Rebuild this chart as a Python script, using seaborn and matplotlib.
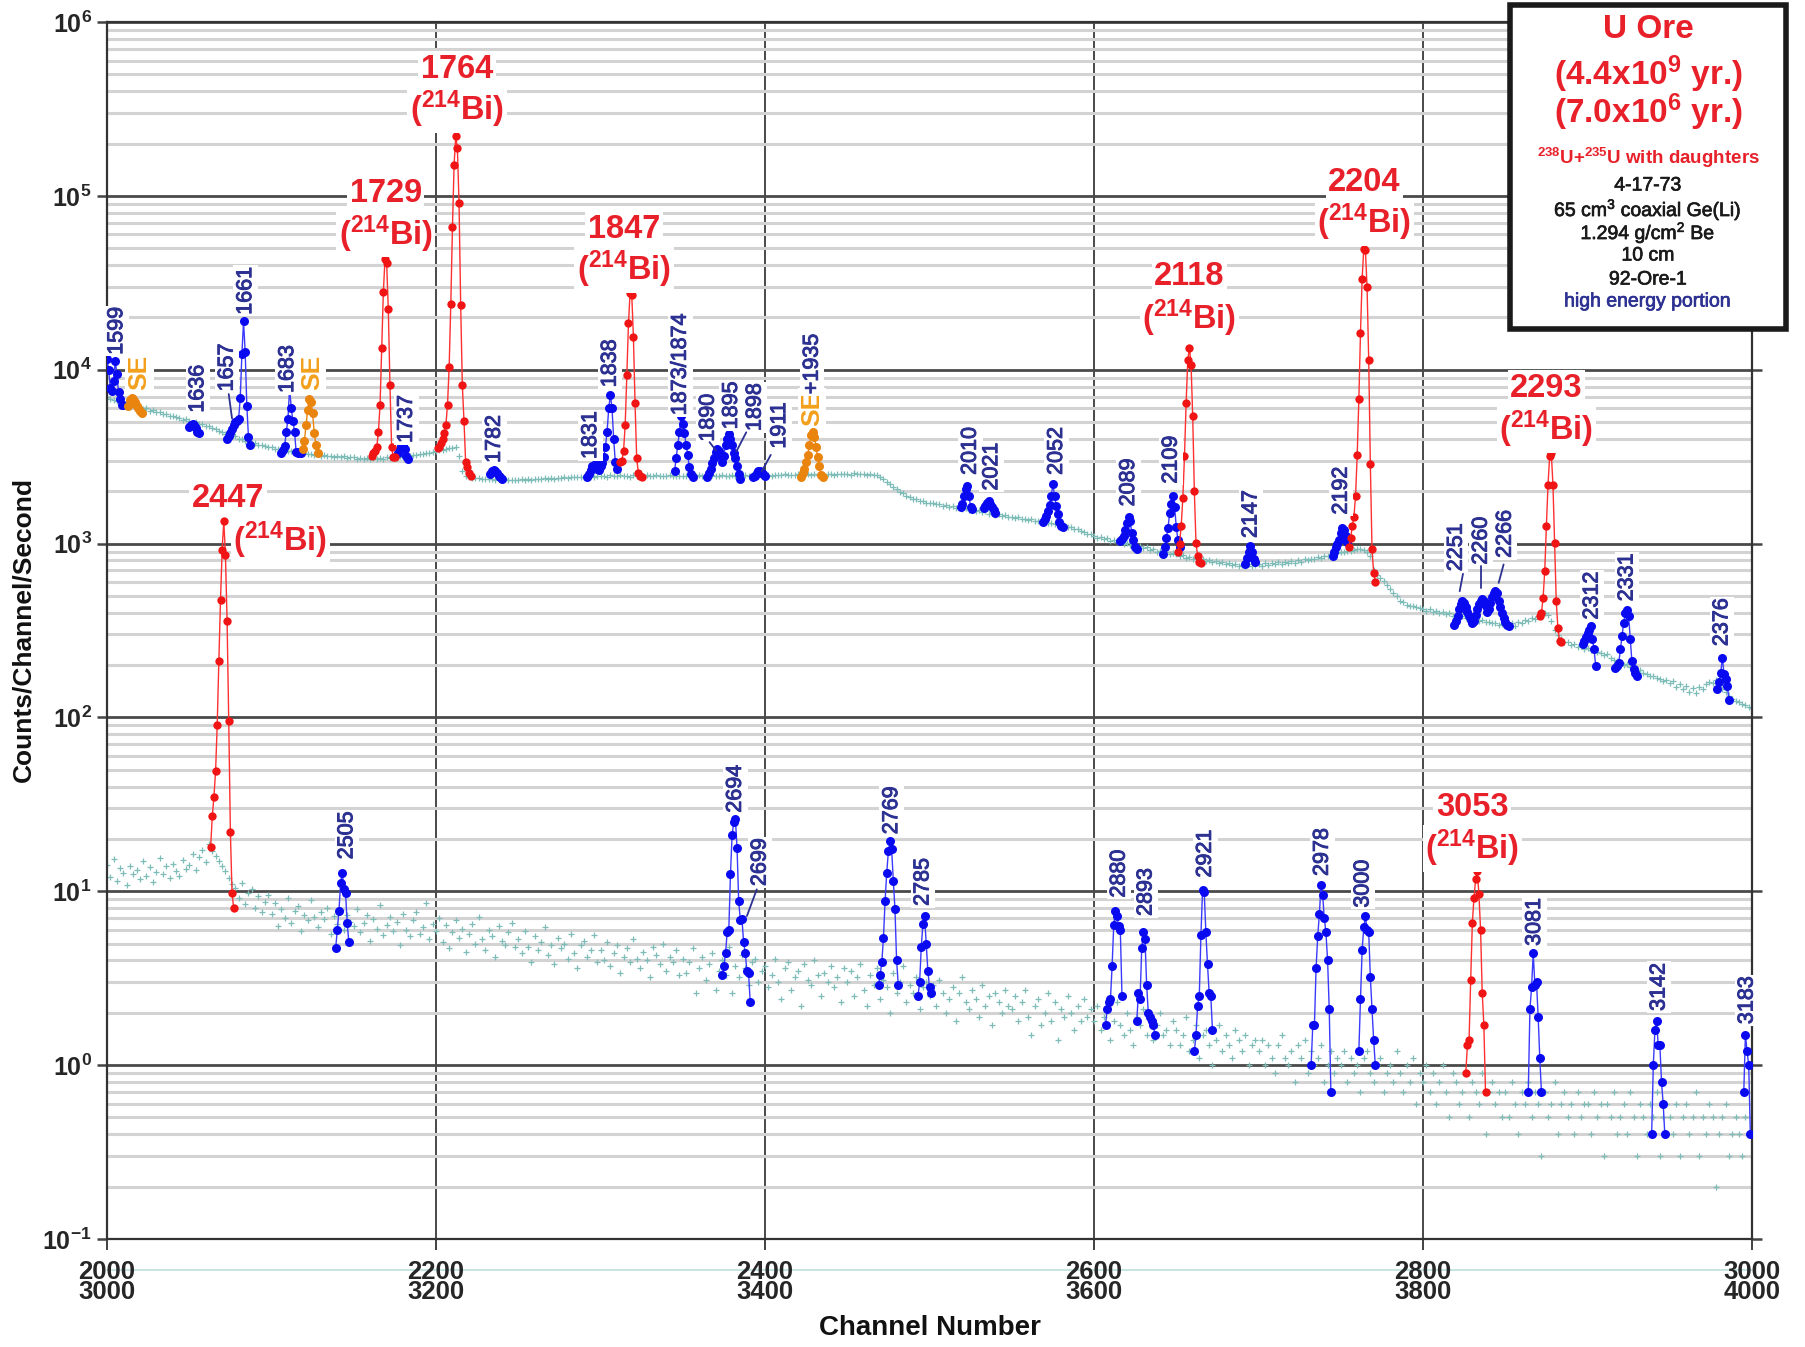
import numpy as np
import pandas as pd
import seaborn as sns
import matplotlib
matplotlib.use("Agg")
import matplotlib.pyplot as plt
import matplotlib.patheffects as pe
from matplotlib.patches import Rectangle
from matplotlib.ticker import LogLocator, NullFormatter

# ---------------------------------------------------------------------------
# Continuum (background) of the two halves of the spectrum, every 2nd channel.
# Upper trace: channels 2000-3000, lower trace: channels 3000-4000.
# ---------------------------------------------------------------------------
upper_bg = [
    6950, 6750, 6720, 6580, 6530, 6400, 6380, 6250, 6230, 6120, 6080, 5960, 5990, 5820, 5830, 5680, 5700, 5560, 5540, 5420, 5440, 5320, 5280, 5170, 5180,
    5080, 4960, 4980, 4870, 4870, 4750, 4740, 4620, 4590, 4440, 4400, 4290, 4270, 4150, 4140, 4020, 4010, 3910, 3900, 3800, 3790, 3700, 3700, 3620, 3610,
    3580, 3510, 3520, 3460, 3470, 3400, 3420, 3360, 3370, 3310, 3320, 3270, 3290, 3230, 3260, 3200, 3220, 3170, 3200, 3150, 3180, 3130, 3170, 3120, 3150,
    3130, 3080, 3110, 3070, 3100, 3060, 3110, 3070, 3120, 3080, 3130, 3100, 3150, 3120, 3170, 3150, 3200, 3180, 3240, 3220, 3280, 3260, 3320, 3310, 3380,
    3420, 3440, 3470, 3500, 3540, 3560, 3590, 3200, 2600, 2440, 2400, 2390, 2370, 2380, 2350, 2360, 2340, 2350, 2330, 2340, 2320, 2340, 2320, 2330, 2310,
    2330, 2340, 2320, 2350, 2330, 2360, 2340, 2350, 2370, 2350, 2380, 2360, 2390, 2380, 2400, 2380, 2410, 2400, 2420, 2400, 2430, 2410, 2440, 2420, 2450,
    2440, 2460, 2430, 2470, 2450, 2440, 2470, 2450, 2460, 2430, 2470, 2450, 2440, 2460, 2480, 2450, 2440, 2470, 2450, 2460, 2440, 2470, 2450, 2460, 2440,
    2460, 2440, 2470, 2450, 2460, 2480, 2450, 2460, 2440, 2470, 2460, 2450, 2480, 2460, 2450, 2470, 2460, 2480, 2450, 2470, 2460, 2480, 2460, 2470, 2450,
    2470, 2480, 2460, 2490, 2470, 2480, 2500, 2470, 2490, 2480, 2500, 2480, 2490, 2510, 2480, 2500, 2490, 2510, 2490, 2500, 2520, 2490, 2510, 2500, 2520,
    2510, 2490, 2530, 2500, 2520, 2510, 2490, 2520, 2480, 2470, 2410, 2360, 2270, 2210, 2110, 2070, 1980, 1950, 1870, 1860, 1800, 1800, 1750, 1760, 1720,
    1710, 1720, 1680, 1690, 1650, 1670, 1630, 1650, 1600, 1620, 1590, 1600, 1560, 1580, 1540, 1550, 1510, 1530, 1480, 1500, 1460, 1480, 1440, 1460, 1420,
    1430, 1400, 1420, 1390, 1380, 1360, 1380, 1350, 1340, 1330, 1340, 1310, 1320, 1290, 1300, 1270, 1280, 1250, 1240, 1210, 1220, 1180, 1170, 1140, 1130,
    1110, 1080, 1090, 1060, 1070, 1040, 1050, 1020, 1030, 1000, 1010, 980, 990, 960, 970, 940, 950, 920, 930, 900, 910, 890, 890, 870, 880,
    870, 850, 860, 830, 840, 820, 830, 800, 810, 790, 800, 780, 790, 770, 780, 760, 770, 750, 760, 740, 750, 740, 760, 745, 755,
    760, 745, 770, 755, 775, 760, 780, 765, 785, 770, 790, 775, 800, 785, 810, 800, 820, 815, 835, 830, 850, 845, 865, 860, 880,
    890, 900, 905, 910, 920, 925, 930, 920, 900, 850, 700, 660, 630, 610, 575, 545, 520, 500, 470, 460, 445, 440, 438, 432, 428,
    422, 410, 418, 405, 410, 398, 404, 392, 398, 385, 390, 378, 384, 372, 376, 365, 370, 360, 362, 352, 356, 348, 350, 342, 346,
    342, 332, 348, 336, 352, 348, 362, 358, 375, 370, 385, 392, 398, 388, 360, 318, 298, 282, 272, 270, 262, 265, 255, 258, 248,
    252, 245, 248, 238, 236, 228, 232, 220, 214, 210, 206, 200, 202, 194, 190, 186, 188, 180, 178, 172, 174, 168, 166, 162, 164,
    158, 162, 150, 156, 145, 152, 140, 148, 138, 150, 146, 155, 160, 158, 165, 150, 145, 140, 132, 128, 125, 122, 120, 118, 115,
    113,
]

lower_bg = [
    14.2, 12.1, 15.3, 11.4, 13.6, 12.8, 10.9, 14.0, 12.5, 13.3, 11.7, 14.9, 12.2, 13.8, 11.3, 12.9, 15.6, 12.6, 13.9, 11.9, 14.4, 13.0, 12.3, 15.1, 13.5,
    14.1, 16.4, 13.2, 15.7, 17.3, 14.8, 18.6, 17.0, 16.0, 15.0, 14.0, 13.0, 12.0, 11.0, 10.4, 9.2, 11.1, 8.4, 9.8, 10.3, 8.0, 9.4, 7.6, 8.7, 9.5,
    7.4, 8.6, 6.3, 7.9, 7.0, 9.1, 6.6, 7.7, 8.2, 5.9, 7.3, 6.8, 8.9, 7.1, 6.2, 7.6, 6.9, 8.0, 5.7, 7.2, 6.5, 7.8, 6.0, 7.3, 6.7,
    6.3, 7.9, 5.8, 6.6, 7.3, 5.2, 6.9, 6.1, 8.3, 5.6, 6.4, 7.1, 5.9, 6.7, 4.9, 7.4, 6.0, 5.5, 6.8, 7.6, 5.7, 6.2, 8.6, 5.3, 6.5,
    5.9, 7.0, 5.1, 6.4, 4.7, 5.8, 6.8, 5.4, 6.1, 4.5, 5.7, 6.5, 5.0, 7.1, 5.3, 4.6, 6.0, 5.5, 4.2, 6.3, 5.2, 4.9, 5.8, 6.6, 4.8,
    5.3, 4.4, 5.9, 4.8, 3.9, 5.5, 4.6, 5.1, 6.2, 4.3, 4.9, 3.8, 5.4, 4.7, 5.0, 4.1, 5.7, 4.4, 3.6, 4.9, 5.2, 4.2, 4.6, 5.6, 3.9,
    4.6, 4.0, 5.1, 3.7, 4.4, 4.9, 3.4, 4.2, 4.7, 3.9, 5.3, 4.1, 3.6, 4.5, 4.0, 3.2, 4.8, 4.3, 3.8, 5.0, 3.5, 4.2, 3.9, 4.6, 3.3,
    4.1, 3.4, 3.9, 4.7, 2.6, 3.6, 4.2, 3.1, 3.8, 4.4, 2.7, 3.5, 4.0, 3.3, 4.8, 2.6, 3.7, 3.2, 4.3, 3.6, 2.9, 3.9, 4.1, 3.0, 3.5,
    3.7, 2.8, 3.3, 4.1, 3.0, 2.4, 3.6, 3.9, 2.7, 3.2, 3.5, 2.2, 3.8, 3.1, 2.9, 4.0, 3.3, 2.5, 3.4, 3.0, 3.7, 2.8, 3.2, 2.3, 3.6,
    3.0, 3.5, 2.5, 3.2, 3.8, 2.7, 2.2, 3.3, 2.9, 3.6, 2.4, 3.1, 2.8, 2.0, 3.4, 2.6, 3.0, 3.7, 2.3, 2.9, 2.6, 3.2, 2.1, 2.8, 3.0,
    2.5, 2.9, 2.2, 3.1, 2.6, 2.0, 2.4, 2.8, 1.8, 2.6, 3.2, 2.3, 2.1, 2.7, 2.4, 1.9, 2.9, 2.2, 2.5, 1.7, 2.6, 2.3, 2.0, 2.7, 2.2,
    2.1, 2.5, 1.8, 2.3, 2.7, 1.9, 1.5, 2.2, 2.4, 1.7, 2.0, 2.6, 1.8, 2.3, 1.4, 2.1, 1.9, 2.5, 2.0, 1.6, 2.2, 1.8, 2.4, 1.9, 2.1,
    1.8, 2.2, 1.6, 1.9, 2.1, 1.4, 1.8, 2.3, 1.7, 1.5, 2.0, 1.6, 1.3, 1.9, 1.7, 2.1, 1.5, 1.8, 1.4, 1.7, 2.0, 1.5, 1.6, 1.3, 1.8,
    1.6, 1.3, 1.5, 1.9, 1.2, 1.4, 1.7, 1.1, 1.5, 1.6, 1.3, 1.0, 1.4, 1.7, 1.2, 1.5, 1.3, 1.1, 1.6, 1.4, 1.2, 1.5, 1.0, 1.3, 1.4,
    1.2, 1.4, 1.0, 1.3, 1.1, 0.9, 1.3, 1.5, 1.1, 1.0, 1.2, 0.8, 1.3, 1.1, 1.4, 0.9, 1.2, 1.0, 1.1, 1.3, 0.8, 1.0, 1.2, 0.9, 1.1,
    1.0, 1.2, 0.8, 1.1, 0.9, 1.0, 0.7, 1.1, 1.2, 0.9, 0.8, 1.0, 1.1, 0.7, 0.9, 1.0, 0.8, 1.2, 0.9, 0.7, 1.0, 0.8, 1.1, 0.6, 0.9,
    0.8, 1.0, 0.7, 0.9, 0.6, 0.8, 1.0, 0.7, 0.5, 0.9, 0.8, 0.6, 0.7, 0.9, 0.5, 0.8, 0.7, 0.6, 0.9, 0.4, 0.7, 0.8, 0.6, 0.7, 0.5,
    0.7, 0.5, 0.8, 0.6, 0.4, 0.7, 0.6, 0.8, 0.5, 0.7, 0.6, 0.3, 0.7, 0.5, 0.6, 0.8, 0.4, 0.6, 0.7, 0.5, 0.6, 0.4, 0.7, 0.5, 0.6,
    0.6, 0.4, 0.7, 0.5, 0.6, 0.3, 0.6, 0.5, 0.7, 0.4, 0.5, 0.6, 0.4, 0.7, 0.5, 0.3, 0.6, 0.5, 0.4, 0.6, 0.5, 0.7, 0.3, 0.5, 0.6,
    0.5, 0.4, 0.6, 0.3, 0.5, 0.6, 0.4, 0.5, 0.7, 0.3, 0.5, 0.4, 0.6, 0.5, 0.2, 0.4, 0.5, 0.6, 0.3, 0.4, 0.5, 0.4, 0.3, 0.5, 0.4,
    0.4,
]

# ---------------------------------------------------------------------------
# Peaks: (first channel, counts/channel/second in consecutive channels)
# ---------------------------------------------------------------------------
# upper trace, ordinary lines
pk_1599 = (2000, [11500, 10000, 7800, 7500, 8600, 11200, 9500, 7400, 6800, 6300, 6300])
pk_1636 = (2050, [4700, 4800, 4850, 4800, 4600, 4400, 4300])
pk_1657_1661 = (2073, [4000, 4150, 4350, 4550, 4800, 5000, 5100, 5200, 6900, 12300, 19000, 12600, 6200, 4100, 3700])
pk_1683 = (2106, [3300, 3450, 3650, 4400, 5200, 7900, 6000, 5100, 4400, 3350, 3300, 3350, 3300])
pk_1737 = (2177, [3300, 3500, 3650, 3700, 3500, 3200, 3050])
pk_1782 = (2233, [2500, 2600, 2650, 2600, 2550, 2450, 2400, 2350])
pk_1831_1838 = (2292, [2400, 2500, 2650, 2800, 2750, 2900, 2700, 2650, 2800, 2900, 3150, 3600, 4400, 6000, 7200, 6000, 4000, 2950, 2700])
pk_1873 = (2345, [2600, 3100, 3700, 4400, 5400, 4900, 4350, 3700, 3250, 2750, 2500, 2400])
pk_1890_1898 = (2365, [2400, 2550, 2700, 2900, 3100, 3350, 3500, 3400, 3200, 2950, 3200, 3700, 4000, 4250, 4000, 3700, 3300, 3100, 2800, 2500, 2350])
pk_1911 = (2393, [2400, 2450, 2550, 2600, 2600, 2550, 2500, 2450])
pk_2010 = (2519, [1620, 1700, 1880, 2050, 2150, 1880, 1620, 1580])
pk_2021 = (2533, [1600, 1650, 1720, 1760, 1700, 1620, 1560, 1500])
pk_2052 = (2569, [1330, 1380, 1450, 1530, 1670, 1880, 2200, 1880, 1650, 1470, 1330, 1270, 1250])
pk_2089 = (2616, [1030, 1060, 1100, 1200, 1320, 1420, 1340, 1150, 1050, 950, 930])
pk_2109 = (2642, [870, 960, 1080, 1230, 1500, 1680, 1870, 1630, 1250, 1050, 950])
pk_2147 = (2692, [760, 830, 900, 970, 900, 820, 780])
pk_2192 = (2745, [850, 900, 950, 1000, 1050, 1150, 1230, 1200, 1100, 1020])
pk_2251_2266 = (2819, [340, 360, 385, 420, 450, 466, 455, 430, 405, 385, 365, 350, 360, 390, 420, 450, 470,
                       477, 470, 440, 405, 420, 455, 490, 520, 532, 520, 470, 430, 400, 375, 355, 340, 335])
pk_2312 = (2897, [264, 276, 290, 305, 320, 335, 282, 246, 197])
pk_2331 = (2917, [193, 197, 206, 246, 294, 350, 398, 414, 383, 282, 210, 189, 181, 173])
pk_2376 = (2979, [145, 159, 181, 220, 178, 166, 152, 126])

# upper trace, single-escape peaks
se_2019 = (2013, [6200, 6700, 6900, 6800, 6500, 6200, 6000, 5800, 5600])
se_2124 = (2119, [3500, 3900, 4800, 5900, 6800, 6500, 5600, 4300, 3700, 3300])
se_1935 = (2422, [2430, 2550, 2700, 2950, 3250, 3700, 4200, 4400, 4100, 3600, 3150, 2800, 2480, 2430])

# upper trace, 214Bi lines
bi_1729 = (2161, [3200, 3300, 3400, 3600, 4400, 6300, 13400, 28000, 43500, 41000, 22300, 8200, 3600, 3150, 3150])
bi_1764 = (2201, [3550, 3600, 3800, 4000, 4330, 4800, 6300, 10400, 24000, 66000, 151000, 220000, 188000,
                  91000, 23500, 8200, 5100, 2960, 2750, 2550, 2450])
bi_1847 = (2312, [2950, 3000, 3400, 4800, 9300, 18500, 27800, 27000, 15500, 6400, 3100, 2550, 2450, 2400])
bi_2118 = (2651, [900, 1000, 1260, 1830, 3170, 6450, 11300, 13400, 10700, 5400, 2000, 1010, 850, 780, 770])
bi_2204 = (2755, [960, 1070, 1260, 1420, 1880, 3230, 6770, 16300, 33400, 49500, 48500, 29800, 11300, 2850, 925, 680, 600])
bi_2293 = (2871, [382, 400, 487, 693, 1260, 2180, 3180, 3300, 2180, 1010, 466, 327, 276, 270])

# lower trace (channels 3000-4000)
pk_2505 = (3139, [4.7, 6.0, 7.7, 11.2, 12.8, 10.3, 9.8, 6.6, 5.1])
pk_2694 = (3374, [3.3, 3.7, 4.4, 5.8, 6.0, 12.5, 21, 25, 26, 17.8, 8.8, 6.8, 6.9, 5.1, 4.4, 3.5, 3.4, 2.3])
pk_2769 = (3469, [2.9, 3.3, 3.9, 5.4, 8.8, 12.8, 17, 19.5, 17.4, 11.5, 7.9, 4.0, 2.9])
pk_2785 = (3493, [2.5, 3.0, 4.8, 6.5, 7.2, 5.0, 3.5, 2.8, 2.6])
pk_2880 = (3607, [1.7, 2.1, 2.3, 2.4, 3.7, 6.4, 7.7, 7.2, 6.3, 6.0, 2.5])
pk_2893 = (3626, [1.8, 2.6, 2.4, 4.7, 5.8, 5.3, 2.9, 2.0, 1.9, 1.8, 1.7, 1.5])
pk_2921 = (3661, [1.2, 1.5, 2.2, 2.5, 5.6, 10.2, 9.9, 5.8, 3.8, 2.6, 2.5, 1.6])
pk_2978 = (3732, [1.0, 1.7, 1.7, 3.6, 5.5, 7.4, 10.8, 9.5, 7.0, 5.8, 4.0, 2.1, 0.7])
pk_3000 = (3761, [1.2, 2.4, 4.6, 6.2, 7.2, 6.0, 5.8, 3.2, 2.1, 1.4, 1.0])
pk_3081 = (3864, [0.7, 2.1, 2.8, 4.4, 2.9, 3.0, 1.9, 1.1, 0.7])
pk_3142 = (3939, [0.4, 1.0, 1.6, 1.8, 1.3, 1.3, 0.8, 0.6, 0.4])
pk_3183 = (3995, [0.7, 1.5, 1.2, 1.0, 0.4])
bi_2447 = (3063, [18, 27, 35, 49, 91, 211, 475, 924, 1350, 860, 357, 96, 22, 9.8, 8.0])
bi_3053 = (3826, [0.9, 1.3, 1.4, 3.1, 6.6, 9.2, 11.7, 13.1, 9.6, 6.0, 2.6, 1.7, 0.7])

upper_lines = [pk_1599, pk_1636, pk_1657_1661, pk_1683, pk_1737, pk_1782, pk_1831_1838, pk_1873,
               pk_1890_1898, pk_1911, pk_2010, pk_2021, pk_2052, pk_2089, pk_2109, pk_2147, pk_2192,
               pk_2251_2266, pk_2312, pk_2331, pk_2376]
upper_escape = [se_2019, se_2124, se_1935]
upper_bismuth = [bi_1729, bi_1764, bi_1847, bi_2118, bi_2204, bi_2293]
lower_lines = [pk_2505, pk_2694, pk_2769, pk_2785, pk_2880, pk_2893, pk_2921, pk_2978, pk_3000,
               pk_3081, pk_3142, pk_3183]
lower_bismuth = [bi_2447, bi_3053]

# energy (keV) labels of the ordinary lines and where their text starts (channel, log10 rate)
line_labels = ["1599", "1636", "1657", "1661", "1683", "1737", "1782", "1831", "1838", "1873/1874",
               "1890", "1895", "1898", "1911", "2010", "2021", "2052", "2089", "2109", "2147", "2192",
               "2251", "2260", "2266", "2312", "2331", "2376", "2505", "2694", "2699", "2769", "2785",
               "2880", "2893", "2921", "2978", "3000", "3081", "3142", "3183"]
line_label_pos = [(2005.9, 4.086), (2055.2, 3.753), (2073.0, 3.875), (2084.3, 4.316), (2109.8, 3.866),
                  (2182.0, 3.579), (2235.5, 3.464), (2294.0, 3.486), (2305.9, 3.899), (2348.5, 3.738),
                  (2365.5, 3.586), (2379.6, 3.657), (2394.0, 3.647), (2408.9, 3.546), (2524.8, 3.395),
                  (2537.8, 3.305), (2577.2, 3.395), (2621.0, 3.214), (2646.9, 3.345), (2695.4, 3.032),
                  (2750.3, 3.167), (2820.2, 2.841), (2835.4, 2.879), (2850.0, 2.918), (2902.8, 2.563),
                  (2924.0, 2.668), (2981.7, 2.410), (2145.8, 1.184), (2382.0, 1.452), (2397.0, 1.030),
                  (2477.0, 1.328), (2496.0, 0.916), (2615.3, 0.964), (2631.6, 0.858), (2667.7, 1.079),
                  (2738.8, 1.088), (2763.5, 0.906), (2867.8, 0.686), (2943.5, 0.312), (2997.0, 0.236)]
leader_lines = [((2074.0, 3.86), (2076.0, 3.72)), ((2366.3, 3.583), (2370.2, 3.536)),
                ((2388.6, 3.64), (2382.6, 3.53)), ((2403.5, 3.51), (2398.0, 3.415)),
                ((2824.3, 2.826), (2822.3, 2.726)), ((2835.4, 2.870), (2835.4, 2.746)),
                ((2849.0, 2.880), (2846.0, 2.774)), ((2395.0, 1.011), (2389.0, 0.858))]

bi_labels = ["1764", "1729", "1847", "2118", "2204", "2293", "2447", "3053"]
bi_number_pos = [(2212.8, 5.728), (2169.4, 5.013), (2314.3, 4.808), (2658.0, 4.536), (2764.4, 5.079),
                 (2875.0, 3.894), (2073.5, 3.258), (2830.0, 1.483)]
bi_tag_pos = [(2212.8, 5.497), (2169.4, 4.781), (2314.3, 4.576), (2658.0, 4.298), (2764.4, 4.848),
              (2875.0, 3.656), (2105.4, 3.020), (2830.0, 1.245)]
escape_label_pos = [(2019.8, 3.885), (2124.5, 3.885), (2428.7, 3.678)]

x_ticks = [2000, 2200, 2400, 2600, 2800, 3000]
y_exponents = [-1, 0, 1, 2, 3, 4, 5, 6]

# ---------------------------------------------------------------------------
sns.set_theme(style="white")
plt.rcParams["font.family"] = ["Liberation Sans", "DejaVu Sans"]
plt.rcParams["mathtext.fontset"] = "custom"
plt.rcParams["mathtext.rm"] = "Liberation Sans"
plt.rcParams["mathtext.bf"] = "Liberation Sans:bold"
plt.rcParams["mathtext.it"] = "Liberation Sans:italic"

BLUE = "#0a0af0"
BLUE_LINE = "#3a3aff"
RED = "#f01414"
RED_LINE = "#ff3030"
ORANGE = "#e9850f"
NAVY = "#2c3192"
LABEL_RED = "#e8202a"
SE_ORANGE = "#f2a01c"
TEAL = "#7dbcb7"

fig = plt.figure(figsize=(18.06, 13.47), dpi=100, facecolor="white")
ax = fig.add_axes([0.05925, 0.08018, 0.91085, 0.90349])

# continuum points
bg = pd.DataFrame({
    "channel": np.concatenate([np.arange(2000, 3001, 2), np.arange(3000, 4001, 2) - 1000]),
    "rate": np.concatenate([upper_bg, lower_bg]),
})
sns.scatterplot(data=bg, x="channel", y="rate", marker="+", s=22, color=TEAL,
                linewidth=0.9, ax=ax, zorder=2, legend=False)


def draw_peak(peak, dot, line, offset=0, size=6.5):
    start, values = peak
    chans = np.arange(start, start + len(values)) - offset
    sns.lineplot(x=chans, y=values, ax=ax, color=line, lw=1.0, marker="o",
                 markersize=size, markerfacecolor=dot, markeredgewidth=0, sort=False,
                 estimator=None, zorder=4, legend=False)


for pk in upper_lines:
    draw_peak(pk, BLUE, BLUE_LINE)
for pk in upper_escape:
    draw_peak(pk, ORANGE, ORANGE)
for pk in upper_bismuth:
    draw_peak(pk, RED, RED_LINE, size=6)
for pk in lower_lines:
    draw_peak(pk, BLUE, BLUE_LINE, offset=1000)
for pk in lower_bismuth:
    draw_peak(pk, RED, RED_LINE, offset=1000, size=6)

# axes, scales and grid
ax.set_yscale("log")
ax.set_xlim(2000, 3000)
ax.set_ylim(0.1, 1e6)
ax.set_xlabel("")
ax.set_ylabel("")
ax.set_xticks(x_ticks)
ax.set_xticklabels([f"{t}\n{t + 1000}" for t in x_ticks], fontsize=18.5,
                   fontweight="bold", linespacing=0.78)
ax.set_yticks([10.0 ** e for e in y_exponents])
ax.set_yticklabels([rf"$\mathbf{{10^{{{e}}}}}$" for e in y_exponents], fontsize=18)
ax.yaxis.set_minor_locator(LogLocator(base=10, subs=np.arange(2, 10), numticks=30))
ax.yaxis.set_minor_formatter(NullFormatter())
ax.tick_params(axis="y", which="major", direction="out", length=7, width=1.8,
               color="#444444", left=True, right=True, labelright=False, pad=4)
ax.tick_params(axis="y", which="minor", length=0)
ax.tick_params(axis="x", which="major", direction="out", length=8, width=1.3,
               color="#333333", bottom=True, pad=7)
ax.grid(True, which="minor", axis="y", color="#d3d3d3", lw=2.2)
ax.grid(True, which="major", axis="y", color="#4a4a4a", lw=2.0)
ax.grid(True, which="major", axis="x", color="#3a3a3a", lw=1.3)
ax.set_axisbelow(True)
for side in ax.spines.values():
    side.set_color("#333333")
    side.set_linewidth(1.6)

# faint trace of empty channels below the frame, behind the tick labels
ax.plot([2000, 3000], [-0.0255, -0.0255], transform=ax.get_xaxis_transform(),
        color="#bfe3e0", lw=1.3, clip_on=False, zorder=0.2)

white_box = dict(boxstyle="square,pad=0.08", fc="white", ec="none")
thicken = [pe.withStroke(linewidth=0.7, foreground=NAVY)]

for text, (ch, lg) in zip(line_labels, line_label_pos):
    ax.text(ch, 10 ** lg, text, rotation=90, ha="center", va="bottom", fontsize=15.5,
            color=NAVY, bbox=white_box, zorder=6, path_effects=thicken)

for (p0, p1) in leader_lines:
    ax.plot([p0[0], p1[0]], [10 ** p0[1], 10 ** p1[1]], color=NAVY, lw=1.3, zorder=6)

for ch, lg in escape_label_pos:
    ax.text(ch, 10 ** lg, "SE", rotation=90, ha="center", va="bottom", fontsize=19,
            fontweight="bold", color=SE_ORANGE, bbox=white_box, zorder=6)
ax.text(2428.7, 10 ** 3.859, "+1935", rotation=90, ha="center", va="bottom", fontsize=15.5,
        color=NAVY, bbox=white_box, zorder=6, path_effects=thicken)

for text, (cx, ly), (tx, ty) in zip(bi_labels, bi_number_pos, bi_tag_pos):
    ax.text(cx, 10 ** ly, text, ha="center", va="center", fontsize=23.5, fontweight="bold",
            color=LABEL_RED, bbox=white_box, zorder=6)
    ax.text(tx, 10 ** ty, r"($^{\mathbf{214}}$Bi)", ha="center", va="center", fontsize=23.5,
            fontweight="bold", color=LABEL_RED, bbox=white_box, zorder=6)

# axis titles
fig.text(23 / 1806, 1 - 630 / 1347, "Counts/Channel/Second", rotation=90, ha="center",
         va="center", fontsize=19, fontweight="bold", color="#111111")
fig.text(930 / 1806, 1 - 1328 / 1347, "Channel Number", ha="center", va="center",
         fontsize=20, fontweight="bold", color="#111111")

# information box
fig.add_artist(Rectangle((1510 / 1806, 1 - 329 / 1347), 276 / 1806, 324 / 1347,
                         transform=fig.transFigure, fc="white", ec="#1a1a1a", lw=4, zorder=10))
info_x = 1648 / 1806
info_lines = [
    ("U Ore", 30, 24, "bold", LABEL_RED),
    (r"(4.4x10$^{\mathbf{9}}$ yr.)", 74, 24, "bold", LABEL_RED),
    (r"(7.0x10$^{\mathbf{6}}$ yr.)", 112, 24, "bold", LABEL_RED),
    (r"$^{\mathbf{238}}$U+$^{\mathbf{235}}$U with daughters", 158, 13.5, "bold", LABEL_RED),
    ("4-17-73", 186, 14, "normal", "#1a1a1a"),
    (r"65 cm$^{3}$ coaxial Ge(Li)", 210, 14, "normal", "#1a1a1a"),
    (r"1.294 g/cm$^{2}$ Be", 233, 14, "normal", "#1a1a1a"),
    ("10 cm", 256, 14, "normal", "#1a1a1a"),
    ("92-Ore-1", 280, 14, "normal", "#1a1a1a"),
    ("high energy portion", 302, 14, "normal", NAVY),
]
for text, ypix, size, weight, colour in info_lines:
    fig.text(info_x, 1 - ypix / 1347, text, ha="center", va="center", fontsize=size,
             fontweight=weight, color=colour, zorder=11,
             path_effects=[pe.withStroke(linewidth=0.5, foreground=colour)] if weight == "normal" else None)

fig.savefig("out.png", dpi=100, facecolor="white")
